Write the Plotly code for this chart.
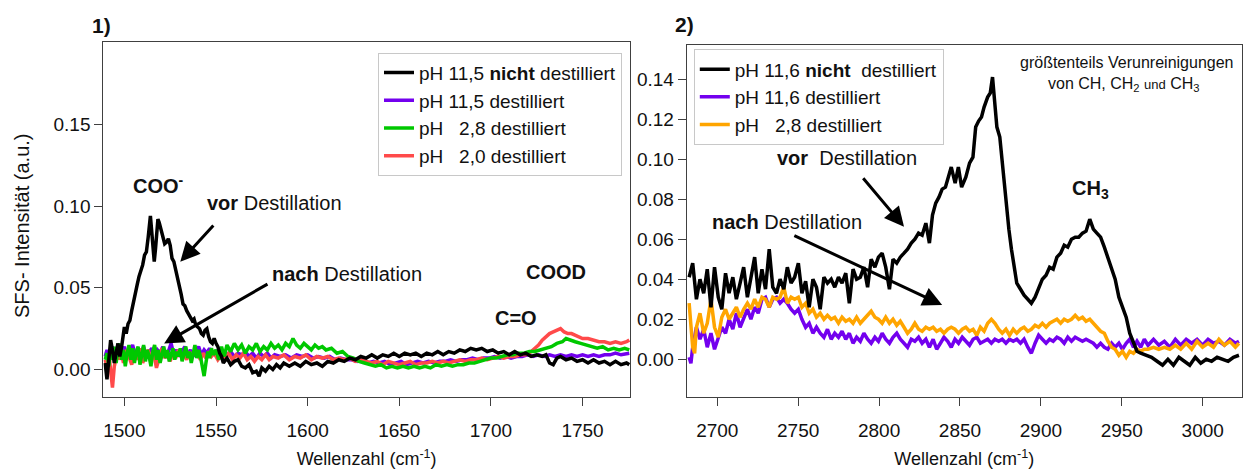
import plotly.graph_objects as go

FONT = "Liberation Sans, Arial, sans-serif"

# ---------------- Panel 1 data (COO- region) ----------------
p1_black_x = [1489.5, 1490.5, 1491.5, 1492.5, 1493.5, 1494.5, 1495.5, 1496.5, 1497.5, 1498.5,
              1500, 1501, 1502, 1503, 1504, 1505, 1506, 1507, 1508, 1509, 1510, 1511, 1512, 1513,
              1513.7, 1514.2, 1514.8, 1515.5, 1516.3, 1517, 1517.6, 1518.3, 1519, 1520, 1521, 1522,
              1523, 1524, 1525, 1526, 1527, 1528, 1529, 1530, 1531, 1532, 1533, 1534, 1535, 1536,
              1537, 1538, 1539, 1540, 1541, 1542, 1543, 1544, 1545, 1546, 1547, 1548, 1549, 1550,
              1551, 1552, 1553, 1554, 1556, 1558, 1560, 1562, 1564, 1566, 1568, 1570, 1572, 1573.5,
              1575, 1577, 1579, 1581, 1583, 1585, 1587, 1590, 1593, 1596, 1599, 1602, 1605, 1608,
              1611, 1614, 1617, 1620, 1623, 1626, 1629, 1632, 1635, 1638, 1641, 1644, 1647, 1650,
              1653, 1656, 1659, 1662, 1665, 1668, 1671, 1674, 1677, 1680, 1683, 1686, 1689, 1692,
              1695, 1698, 1701, 1704, 1707, 1710, 1713, 1716, 1719, 1722, 1725, 1728, 1730, 1732,
              1734, 1736, 1738, 1741, 1744, 1747, 1750, 1753, 1756, 1759, 1762, 1765, 1768, 1771,
              1774, 1775.5]
p1_black_y = [0.004, -0.006, 0.006, 0.018, 0.012, 0.004, 0.010, 0.016, 0.008, 0.014,
              0.026, 0.022, 0.028, 0.030, 0.036, 0.042, 0.047, 0.052, 0.057, 0.061, 0.064, 0.070, 0.072, 0.081,
              0.090, 0.094, 0.086, 0.075, 0.066, 0.074, 0.085, 0.092, 0.090, 0.085, 0.080, 0.077,
              0.078, 0.080, 0.076, 0.068, 0.066, 0.061, 0.058, 0.053, 0.046, 0.040, 0.039, 0.036, 0.034, 0.032,
              0.030, 0.031, 0.027, 0.026, 0.025, 0.022, 0.021, 0.024, 0.025, 0.020, 0.017, 0.016, 0.019, 0.016,
              0.014, 0.010, 0.008, 0.004, 0.007, 0.003, 0.005, 0.006, 0.002, 0.001, 0.003, -0.002, -0.001, -0.004,
              0.001, -0.001, 0.002, 0.000, 0.003, 0.001, 0.004, 0.002, 0.004, 0.002, 0.005, 0.003, 0.004, 0.002,
              0.005, 0.004, 0.006, 0.005, 0.007, 0.006, 0.008, 0.007, 0.009, 0.007, 0.009, 0.008, 0.010, 0.008,
              0.010, 0.009, 0.010, 0.008, 0.010, 0.009, 0.011, 0.009, 0.011, 0.010, 0.012, 0.011, 0.013, 0.012,
              0.013, 0.011, 0.012, 0.010, 0.011, 0.009, 0.011, 0.009, 0.010, 0.008, 0.009, 0.008, 0.009, 0.004,
              0.003, 0.007, 0.008, 0.006, 0.007, 0.005, 0.006, 0.004, 0.006, 0.004, 0.005, 0.003, 0.005, 0.003,
              0.004, 0.003]

p1_purple_x = [1489.5, 1490.5, 1491.5, 1492.5, 1493.5, 1494.5, 1495.5, 1496.5, 1497.5, 1498.5,
               1500, 1501.5, 1503, 1504.5, 1506, 1507.5, 1509, 1510.5, 1512, 1513.5, 1515, 1516.5,
               1518, 1519.5, 1521, 1522.5, 1524, 1525.5, 1527, 1528.5, 1530, 1531.5, 1533, 1534.5,
               1536, 1537.5, 1539, 1540.5, 1542, 1543.5, 1545, 1546.5, 1548, 1550, 1552, 1554, 1556,
               1558, 1560, 1562, 1564, 1566, 1568, 1570, 1572, 1574, 1576, 1578, 1580, 1582, 1585,
               1588, 1591, 1594, 1597, 1600, 1603, 1606, 1609, 1612, 1615, 1618, 1621, 1624, 1627,
               1630, 1633, 1636, 1639, 1642, 1645, 1648, 1651, 1654, 1657, 1660, 1663, 1666, 1669,
               1672, 1675, 1678, 1681, 1684, 1687, 1690, 1693, 1696, 1699, 1702, 1705, 1708, 1711,
               1714, 1717, 1720, 1723, 1726, 1729, 1732, 1735, 1738, 1741, 1744, 1747, 1750, 1753,
               1756, 1759, 1762, 1765, 1768, 1771, 1774, 1775.5]
p1_purple_y = [0.008, 0.012, 0.006, 0.010, 0.014, 0.008, 0.012, 0.007, 0.013, 0.009,
               0.014, 0.007, 0.011, 0.015, 0.008, 0.012, 0.009, 0.014, 0.007, 0.011, 0.013, 0.008,
               0.012, 0.010, 0.014, 0.008, 0.011, 0.016, 0.009, 0.012, 0.008, 0.011, 0.014, 0.009,
               0.012, 0.008, 0.011, 0.014, 0.009, 0.012, 0.010, 0.013, 0.009, 0.011, 0.008, 0.010, 0.009,
               0.011, 0.008, 0.010, 0.009, 0.011, 0.008, 0.010, 0.007, 0.010, 0.008, 0.010, 0.007, 0.009, 0.008,
               0.009, 0.007, 0.009, 0.008, 0.009, 0.007, 0.008, 0.007, 0.008, 0.006, 0.007, 0.006, 0.006, 0.005,
               0.006, 0.004, 0.005, 0.004, 0.005, 0.003, 0.004, 0.005, 0.003, 0.004, 0.005, 0.004, 0.005, 0.004,
               0.005, 0.005, 0.006, 0.005, 0.006, 0.006, 0.007, 0.006, 0.007, 0.007, 0.008, 0.007, 0.008, 0.007,
               0.008, 0.008, 0.009, 0.008, 0.009, 0.008, 0.009, 0.008, 0.009, 0.008, 0.009, 0.008, 0.009, 0.008,
               0.009, 0.008, 0.009, 0.009, 0.010, 0.009, 0.010, 0.010]

p1_green_x = [1489.5, 1490.5, 1491.5, 1492.5, 1493.5, 1494.5, 1495.5, 1496.5, 1497.5, 1498.5,
              1499.5, 1500.5, 1501.5, 1502.5, 1503.5, 1504.5, 1505.5, 1506.5, 1507.5, 1508.5,
              1509.5, 1510.5, 1511.5, 1512.5, 1513.5, 1514.5, 1515.5, 1516.5, 1517.5, 1518.5,
              1519.5, 1520.5, 1521.5, 1522.5, 1523.5, 1524.5, 1525.5, 1526.5, 1527.5, 1528.5,
              1529.5, 1530.5, 1531.5, 1532.5, 1533.5, 1534.5, 1535.5, 1536.5, 1537.5, 1538.5,
              1539.5, 1540.5, 1541.5, 1542.5, 1543.5, 1544.5, 1545.5, 1546.5, 1547.5, 1548.5,
              1550, 1551.5, 1553, 1554.5, 1556, 1558, 1560, 1562, 1564, 1566, 1568, 1570, 1572,
              1574, 1576, 1578, 1580, 1582, 1584, 1586, 1588, 1590, 1592, 1594, 1596, 1598, 1600,
              1602, 1604, 1606, 1608, 1610, 1613, 1616, 1619, 1622, 1625, 1628, 1631, 1634, 1637,
              1640, 1643, 1646, 1649, 1652, 1655, 1658, 1661, 1664, 1667, 1670, 1673, 1676, 1679,
              1682, 1685, 1688, 1691, 1694, 1697, 1700, 1703, 1706, 1709, 1712, 1715, 1718, 1721,
              1724, 1727, 1730, 1733, 1736, 1739, 1741, 1743, 1746, 1749, 1752, 1755, 1758, 1761,
              1764, 1767, 1770, 1773, 1775.5]
p1_green_y = [0.006, 0.010, 0.002, 0.012, 0.006, 0.014, 0.004, 0.012, 0.016, 0.006,
              0.012, 0.002, 0.010, 0.015, 0.006, 0.013, 0.004, 0.011, 0.014, 0.003,
              0.009, 0.015, 0.005, 0.012, 0.008, 0.002, 0.011, 0.015, 0.006, 0.012,
              0.004, 0.010, 0.014, 0.007, 0.012, 0.005, 0.010, 0.013, 0.006, 0.011,
              0.008, 0.013, 0.005, 0.009, 0.014, 0.007, 0.011, 0.004, 0.010, 0.015,
              0.007, 0.012, 0.008, 0.001, -0.004, 0.004, 0.011, 0.007, 0.013, 0.009,
              0.012, 0.006, 0.014, 0.008, 0.015, 0.011, 0.016, 0.012, 0.015, 0.010, 0.014, 0.012, 0.016,
              0.011, 0.014, 0.012, 0.016, 0.013, 0.015, 0.012, 0.016, 0.014, 0.019, 0.015, 0.013, 0.016, 0.014,
              0.012, 0.015, 0.013, 0.014, 0.012, 0.013, 0.010, 0.011, 0.008, 0.007, 0.005, 0.004, 0.003, 0.002,
              0.003, 0.001, 0.002, 0.001, 0.002, 0.001, 0.002, 0.001, 0.002, 0.001, 0.003, 0.002, 0.003, 0.002,
              0.003, 0.003, 0.004, 0.004, 0.005, 0.006, 0.007, 0.007, 0.008, 0.009, 0.009, 0.010, 0.010, 0.011,
              0.011, 0.012, 0.013, 0.014, 0.016, 0.017, 0.019, 0.018, 0.017, 0.016, 0.015, 0.014, 0.013, 0.014,
              0.012, 0.013, 0.012, 0.013, 0.012]

p1_red_x = [1489.5, 1490.5, 1491.5, 1492.5, 1493.5, 1494.5, 1495.5, 1496.5, 1497.5, 1498.5,
            1499.5, 1501, 1502.5, 1504, 1505.5, 1507, 1508.5, 1510, 1511.5, 1513, 1514.5, 1516,
            1517.5, 1519, 1520.5, 1522, 1523.5, 1525, 1526.5, 1528, 1529.5, 1531, 1532.5, 1534,
            1535.5, 1537, 1538.5, 1540, 1541.5, 1543, 1544.5, 1546, 1547.5, 1549, 1551, 1553,
            1555, 1557, 1559, 1561, 1563, 1565, 1567, 1569, 1571, 1573, 1575, 1577, 1579, 1581,
            1584, 1587, 1590, 1593, 1596, 1599, 1602, 1605, 1608, 1611, 1614, 1617, 1620, 1623,
            1626, 1629, 1632, 1635, 1638, 1641, 1644, 1647, 1650, 1653, 1656, 1659, 1662, 1665,
            1668, 1671, 1674, 1677, 1680, 1683, 1686, 1689, 1692, 1695, 1698, 1701, 1704, 1707,
            1710, 1713, 1716, 1719, 1722, 1724, 1726, 1728, 1730, 1732, 1734, 1736, 1738, 1740,
            1742, 1744, 1746, 1748, 1750, 1753, 1756, 1759, 1762, 1765, 1768, 1771, 1774, 1775.5]
p1_red_y = [0.006, 0.002, 0.010, 0.000, -0.011, 0.002, 0.008, 0.012, 0.006, 0.010,
            0.004, 0.012, 0.008, 0.003, 0.011, 0.006, 0.013, 0.004, 0.009, 0.012, 0.006, 0.010,
            0.001, 0.008, 0.013, 0.007, 0.010, 0.005, 0.011, 0.007, 0.012, 0.008, 0.010, 0.006,
            0.011, 0.008, 0.012, 0.009, 0.006, 0.010, 0.007, 0.011, 0.008, 0.010, 0.006, 0.009,
            0.007, 0.010, 0.006, 0.009, 0.007, 0.010, 0.006, 0.008, 0.005, 0.008, 0.006, 0.009, 0.006, 0.008,
            0.007, 0.009, 0.006, 0.008, 0.007, 0.009, 0.006, 0.008, 0.007, 0.008, 0.006, 0.007, 0.006, 0.007,
            0.005, 0.006, 0.005, 0.004, 0.005, 0.003, 0.005, 0.004, 0.003, 0.004, 0.005, 0.003, 0.004, 0.004,
            0.005, 0.004, 0.005, 0.004, 0.005, 0.006, 0.005, 0.006, 0.006, 0.007, 0.006, 0.007, 0.008, 0.007,
            0.008, 0.008, 0.009, 0.009, 0.011, 0.013, 0.015, 0.018, 0.020, 0.022, 0.023, 0.024, 0.025, 0.023,
            0.022, 0.022, 0.021, 0.020, 0.019, 0.019, 0.018, 0.017, 0.017, 0.016, 0.017, 0.016, 0.017, 0.018]

# ---------------- Panel 2 data (CH region) ----------------
p2_black_x = [2682.6, 2684.8, 2687.1, 2689.3, 2691.6, 2693.8, 2696.1, 2698.3, 2700.6, 2702.8,
              2705.1, 2707.3, 2709.6, 2711.8, 2714.1, 2716.3, 2718.6, 2720.8, 2723.1, 2725.3,
              2727.6, 2729.8, 2732.1, 2734.3, 2736.6, 2738.8, 2741.1, 2743.3, 2745.6, 2747.8,
              2750.1, 2752.3, 2754.6, 2756.8, 2759.1, 2761.3, 2763.6, 2765.9, 2768.1, 2770.4,
              2772.6, 2774.9, 2777.1, 2779.4, 2781.6, 2783.9, 2786.1, 2788.4, 2790.6, 2792.9,
              2795.1, 2797.4, 2799.6, 2801.9, 2804.1, 2806.4, 2808.6, 2810.9, 2813.1, 2815.4,
              2817.6, 2819.9, 2822.1, 2824.4, 2826.6, 2828.9, 2831.1, 2833, 2835, 2837, 2839, 2841,
              2843.5, 2844.6, 2847, 2849, 2851, 2853.6, 2855.9, 2858, 2859.7, 2861.5, 2863.3, 2864.9,
              2867.1, 2868.7, 2870.1, 2871.4, 2872.8, 2874.6, 2875.9, 2877.3, 2878.4, 2880.2, 2881.8,
              2883.6, 2885.1, 2887.4, 2889.6, 2891.9, 2894.1, 2896.4, 2898.6, 2900.9, 2903.2, 2905.4,
              2907.6, 2909.9, 2912.2, 2914.4, 2916.6, 2918.9, 2921.2, 2923.4, 2925.7, 2927.9, 2930.2,
              2932.4, 2934.6, 2936.9, 2939.2, 2941.4, 2943.7, 2945.9, 2948.2, 2950.4, 2952.7, 2954.9,
              2957.2, 2959.4, 2961.7, 2965, 2968.4, 2971.8, 2975.2, 2978.5, 2981.9, 2985.3, 2988.7,
              2992, 2995.4, 2998.8, 3002.2, 3005.5, 3008.9, 3012.3, 3015.7, 3019, 3022.4]
p2_black_y = [0.041, 0.048, 0.030, 0.040, 0.033, 0.045, 0.026, 0.046, 0.031, 0.025,
              0.043, 0.033, 0.041, 0.030, 0.038, 0.046, 0.031, 0.040, 0.051, 0.033,
              0.045, 0.035, 0.055, 0.036, 0.033, 0.040, 0.035, 0.046, 0.038, 0.041,
              0.048, 0.033, 0.039, 0.026, 0.040, 0.036, 0.025, 0.041, 0.038, 0.040,
              0.036, 0.041, 0.038, 0.043, 0.028, 0.045, 0.040, 0.041, 0.046, 0.036,
              0.050, 0.046, 0.051, 0.053, 0.046, 0.035, 0.050, 0.048, 0.051, 0.053,
              0.055, 0.058, 0.060, 0.063, 0.062, 0.068, 0.058, 0.072, 0.078, 0.081, 0.085, 0.086,
              0.093, 0.096, 0.088, 0.096, 0.086, 0.091, 0.098, 0.101, 0.116, 0.119, 0.121, 0.126,
              0.131, 0.133, 0.141, 0.128, 0.116, 0.111, 0.100, 0.085, 0.080, 0.065, 0.055,
              0.045, 0.038, 0.035, 0.032, 0.030, 0.028, 0.031, 0.035, 0.040, 0.042, 0.046,
              0.045, 0.051, 0.053, 0.057, 0.056, 0.060, 0.061, 0.061, 0.063, 0.064, 0.070,
              0.065, 0.063, 0.061, 0.056, 0.051, 0.046, 0.040, 0.031, 0.026, 0.021, 0.013,
              0.008, 0.004, 0.003, 0.002, 0.001, -0.001, -0.003, 0.000, -0.003, 0.001, -0.001,
              -0.003, 0.001, -0.002, 0.000, -0.001, 0.001, 0.000, -0.001, 0.001, 0.002]

p2_purple_x = [2682.6, 2683.7, 2684.8, 2687.1, 2689.3, 2691.6, 2693.8, 2696.1, 2698.3, 2700.6,
               2702.8, 2705.1, 2707.3, 2709.6, 2711.8, 2714.1, 2716.3, 2718.6, 2720.8, 2723.1,
               2725.3, 2727.6, 2729.8, 2732.1, 2734.3, 2736.6, 2738.8, 2741.1, 2743.3, 2745.6,
               2747.8, 2750.1, 2752.3, 2754.6, 2756.8, 2759.1, 2761.3, 2763.6, 2765.9, 2768.1,
               2770.4, 2772.6, 2774.9, 2777.1, 2779.4, 2781.6, 2783.9, 2786.1, 2788.4, 2790.6,
               2792.9, 2795.1, 2797.4, 2799.6, 2801.9, 2804.1, 2806.4, 2808.6, 2810.9, 2813.1,
               2815.4, 2817.6, 2819.9, 2822.1, 2824.4, 2826.6, 2828.9, 2831.1, 2833.4, 2835.6,
               2837.9, 2840.1, 2842.4, 2844.6, 2846.9, 2849.1, 2851.4, 2853.6, 2855.9, 2858.1,
               2860.4, 2862.6, 2864.9, 2867.1, 2869.4, 2871.6, 2873.9, 2876.1, 2878.4, 2880.6,
               2882.9, 2885.1, 2887.4, 2889.6, 2891.9, 2894.1, 2896.4, 2898.6, 2900.9, 2903.2,
               2905.4, 2907.6, 2909.9, 2912.2, 2914.4, 2916.6, 2918.9, 2921.2, 2923.4, 2925.7,
               2927.9, 2930.2, 2932.4, 2934.6, 2936.9, 2939.2, 2941.4, 2943.7, 2945.9, 2948.2,
               2950.4, 2952.7, 2954.9, 2957.2, 2959.4, 2961.7, 2963.9, 2966.2, 2969.6, 2972.9,
               2976.3, 2979.7, 2983.1, 2986.4, 2989.8, 2993.2, 2996.5, 2999.9, 3003.3, 3006.7,
               3010, 3013.4, 3016.8, 3020.2, 3022.4]
p2_purple_y = [0.001, -0.002, 0.006, 0.016, 0.010, 0.015, 0.006, 0.013, 0.005, 0.010,
               0.016, 0.013, 0.020, 0.015, 0.023, 0.016, 0.021, 0.025, 0.020, 0.026,
               0.023, 0.030, 0.031, 0.026, 0.030, 0.031, 0.028, 0.030, 0.028, 0.025,
               0.023, 0.025, 0.020, 0.016, 0.018, 0.013, 0.016, 0.013, 0.011, 0.015,
               0.010, 0.013, 0.011, 0.014, 0.010, 0.013, 0.008, 0.011, 0.009, 0.013,
               0.010, 0.008, 0.011, 0.009, 0.013, 0.010, 0.008, 0.011, 0.013, 0.010,
               0.008, 0.006, 0.010, 0.009, 0.011, 0.008, 0.010, 0.006, 0.010, 0.005,
               0.008, 0.011, 0.009, 0.006, 0.010, 0.008, 0.011, 0.009, 0.007, 0.010,
               0.011, 0.008, 0.009, 0.010, 0.008, 0.010, 0.009, 0.010, 0.008, 0.010,
               0.009, 0.010, 0.008, 0.010, 0.006, 0.003, 0.008, 0.012, 0.010, 0.008,
               0.010, 0.009, 0.011, 0.010, 0.008, 0.011, 0.009, 0.011, 0.010, 0.009,
               0.010, 0.009, 0.008, 0.006, 0.008, 0.006, 0.005, 0.008, 0.006, 0.008,
               0.005, 0.008, 0.010, 0.006, 0.009, 0.006, 0.010, 0.007, 0.010, 0.007,
               0.009, 0.006, 0.010, 0.007, 0.010, 0.008, 0.010, 0.007, 0.010, 0.008,
               0.009, 0.007, 0.010, 0.008, 0.009]

p2_orange_x = [2682.6, 2683.7, 2684.8, 2686.0, 2687.1, 2689.3, 2691.6, 2693.8, 2696.1, 2698.3,
               2700.6, 2702.8, 2705.1, 2707.3, 2709.6, 2711.8, 2714.1, 2716.3, 2718.6, 2720.8,
               2723.1, 2725.3, 2727.6, 2729.8, 2732.1, 2734.3, 2736.6, 2738.8, 2741.1, 2743.3,
               2745.6, 2747.8, 2750.1, 2752.3, 2754.6, 2756.8, 2759.1, 2761.3, 2763.6, 2765.9,
               2768.1, 2770.4, 2772.6, 2774.9, 2777.1, 2779.4, 2781.6, 2783.9, 2786.1, 2788.4,
               2790.6, 2792.9, 2795.1, 2797.4, 2799.6, 2801.9, 2804.1, 2806.4, 2808.6, 2810.9,
               2813.1, 2815.4, 2817.6, 2819.9, 2822.1, 2824.4, 2826.6, 2828.9, 2831.1, 2833.4,
               2835.6, 2837.9, 2840.1, 2842.4, 2844.6, 2846.9, 2849.1, 2851.4, 2853.6, 2855.9,
               2858.1, 2860.4, 2862.6, 2864.9, 2867.1, 2869.4, 2871.6, 2873.9, 2876.1, 2878.4,
               2880.6, 2882.9, 2885.1, 2887.4, 2889.6, 2891.9, 2894.1, 2896.4, 2898.6, 2900.9,
               2903.2, 2905.4, 2907.6, 2909.9, 2912.2, 2914.4, 2916.6, 2918.9, 2921.2, 2923.4,
               2925.7, 2927.9, 2930.2, 2932.4, 2934.6, 2936.9, 2939.2, 2941.4, 2943.7, 2945.9,
               2948.2, 2950.4, 2952.7, 2954.9, 2957.2, 2959.4, 2961.7, 2963.9, 2966.2, 2969.6,
               2972.9, 2976.3, 2979.7, 2983.1, 2986.4, 2989.8, 2993.2, 2996.5, 2999.9, 3003.3,
               3006.7, 3010, 3013.4, 3016.8, 3020.2, 3022.4]
p2_orange_y = [0.028, 0.016, 0.006, 0.003, 0.016, 0.023, 0.013, 0.018, 0.030, 0.016,
               0.011, 0.021, 0.025, 0.020, 0.023, 0.026, 0.021, 0.025, 0.028, 0.025,
               0.030, 0.026, 0.031, 0.030, 0.026, 0.031, 0.030, 0.031, 0.036, 0.028,
               0.031, 0.030, 0.031, 0.026, 0.028, 0.023, 0.025, 0.021, 0.023, 0.020,
               0.022, 0.020, 0.021, 0.018, 0.021, 0.019, 0.020, 0.018, 0.021, 0.018,
               0.020, 0.022, 0.024, 0.021, 0.020, 0.018, 0.021, 0.018, 0.020, 0.017,
               0.019, 0.016, 0.013, 0.015, 0.018, 0.015, 0.014, 0.016, 0.015, 0.016,
               0.014, 0.015, 0.013, 0.015, 0.016, 0.015, 0.013, 0.015, 0.016, 0.014,
               0.015, 0.012, 0.016, 0.014, 0.018, 0.020, 0.018, 0.015, 0.013, 0.015,
               0.012, 0.015, 0.013, 0.015, 0.016, 0.014, 0.015, 0.017, 0.016, 0.018,
               0.016, 0.018, 0.019, 0.020, 0.018, 0.020, 0.019, 0.020, 0.022, 0.020,
               0.021, 0.019, 0.020, 0.018, 0.016, 0.014, 0.013, 0.009, 0.006, 0.005,
               0.002, 0.004, 0.001, 0.004, 0.003, 0.005, 0.004, 0.005, 0.005, 0.006,
               0.005, 0.006, 0.005, 0.007, 0.005, 0.008, 0.005, 0.009, 0.006, 0.008,
               0.006, 0.010, 0.007, 0.009, 0.006, 0.008]

# ---------------- axis ticks ----------------
p1_xticks = [1500, 1550, 1600, 1650, 1700, 1750]
p1_yticks = [0.00, 0.05, 0.10, 0.15]
p2_xticks = [2700, 2750, 2800, 2850, 2900, 2950, 3000]
p2_yticks = [0.00, 0.02, 0.04, 0.06, 0.08, 0.10, 0.12, 0.14]

BLACK = "#000000"
PURPLE = "#7300EE"
GREEN = "#00C800"
RED = "#FF4A4A"
ORANGE = "#FFA500"
LW = 3.5

NB = "\u00a0"

fig = go.Figure()

# panel 1 (draw order: purple, red, green, black)
fig.add_trace(go.Scatter(x=p1_purple_x, y=p1_purple_y, mode="lines", line=dict(color=PURPLE, width=LW),
                         name="pH 11,5 destilliert", legendrank=2, legend="legend", xaxis="x", yaxis="y"))
fig.add_trace(go.Scatter(x=p1_red_x, y=p1_red_y, mode="lines", line=dict(color=RED, width=LW),
                         name="pH" + NB * 3 + "2,0 destilliert", legendrank=4, legend="legend", xaxis="x", yaxis="y"))
fig.add_trace(go.Scatter(x=p1_green_x, y=p1_green_y, mode="lines", line=dict(color=GREEN, width=LW),
                         name="pH" + NB * 3 + "2,8 destilliert", legendrank=3, legend="legend", xaxis="x", yaxis="y"))
fig.add_trace(go.Scatter(x=p1_black_x, y=p1_black_y, mode="lines", line=dict(color=BLACK, width=LW),
                         name="pH 11,5 <b>nicht</b> destilliert", legendrank=1, legend="legend", xaxis="x", yaxis="y"))

# panel 2 (draw order: purple, orange, black)
fig.add_trace(go.Scatter(x=p2_purple_x, y=p2_purple_y, mode="lines", line=dict(color=PURPLE, width=LW),
                         name="pH 11,6 destilliert", legendrank=2, legend="legend2", xaxis="x2", yaxis="y2"))
fig.add_trace(go.Scatter(x=p2_orange_x, y=p2_orange_y, mode="lines", line=dict(color=ORANGE, width=LW),
                         name="pH" + NB * 3 + "2,8 destilliert", legendrank=3, legend="legend2", xaxis="x2", yaxis="y2"))
fig.add_trace(go.Scatter(x=p2_black_x, y=p2_black_y, mode="lines", line=dict(color=BLACK, width=LW),
                         name="pH 11,6 <b>nicht</b>" + NB * 2 + "destilliert", legendrank=1, legend="legend2",
                         xaxis="x2", yaxis="y2"))

W, H = 1251, 473
AXC = "#404040"
TICKFONT = dict(family=FONT, size=19, color="#111")

common_x = dict(showline=True, mirror=True, linecolor=AXC, linewidth=1, ticks="outside", ticklen=8,
                tickcolor=AXC, tickwidth=1, showgrid=False, zeroline=False, tickfont=TICKFONT,
                ticklabelstandoff=9)
common_y = dict(showline=True, mirror=True, linecolor=AXC, linewidth=1, ticks="outside", ticklen=8,
                tickcolor=AXC, tickwidth=1, showgrid=False, zeroline=False, tickfont=TICKFONT,
                tickformat=".2f")

xtitle = dict(text="Wellenzahl (cm<sup>-1</sup>)", font=dict(family=FONT, size=18, color="#111"), standoff=12)

LEGFONT = dict(family=FONT, size=19, color="#111")

fig.update_layout(
    width=W, height=H,
    margin=dict(l=0, r=0, t=0, b=0),
    paper_bgcolor="white", plot_bgcolor="white",
    font=dict(family=FONT, color="#111"),
    xaxis=dict(domain=[103.3 / W, 630 / W], range=[1488.5, 1775.9], anchor="y",
               tickvals=p1_xticks, title=xtitle, **common_x),
    yaxis=dict(domain=[(H - 396.5) / H, (H - 42) / H], range=[-0.0165, 0.2004], anchor="x",
               tickvals=p1_yticks, **common_y),
    xaxis2=dict(domain=[686.7 / W, 1241.7 / W], range=[2681.1, 3024.1], anchor="y2",
                tickvals=p2_xticks, title=xtitle, **common_x),
    yaxis2=dict(domain=[(H - 396.5) / H, (H - 45) / H], range=[-0.0186, 0.157], anchor="x2",
                tickvals=p2_yticks, **common_y),
    legend=dict(x=622 / W, xanchor="right", y=(H - 52.7) / H, yanchor="top",
                bgcolor="white", bordercolor="#c8c8c8", borderwidth=1,
                font=LEGFONT, tracegroupgap=0),
    legend2=dict(x=693.8 / W, xanchor="left", y=(H - 49.3) / H, yanchor="top",
                 bgcolor="white", bordercolor="#c8c8c8", borderwidth=1,
                 font=LEGFONT, tracegroupgap=0),
    showlegend=True,
)

ann_font = dict(family=FONT, size=20, color="#111")
bold_font = dict(family=FONT, size=20, color="#111")


def label(text, xref, yref, x, y, font, **kw):
    d = dict(text=text, xref=xref, yref=yref, x=x, y=y, showarrow=False, font=font,
             xanchor="center", yanchor="middle")
    d.update(kw)
    return d


def arrow(xref, yref, x, y, ax, ay):
    return dict(text="", xref=xref, yref=yref, axref=xref, ayref=yref, x=x, y=y, ax=ax, ay=ay,
                showarrow=True, arrowhead=2, arrowsize=1.3, arrowwidth=3, arrowcolor="#000")


annotations = [
    # panel labels
    label("<b>1)</b>", "paper", "paper", 101 / W, (H - 25) / H, dict(family=FONT, size=21, color="#111")),
    label("<b>2)</b>", "paper", "paper", 684 / W, (H - 24) / H, dict(family=FONT, size=21, color="#111")),
    # y title
    label("SFS- Intensität (a.u.)", "paper", "paper", 22 / W, (H - 226) / H,
          dict(family=FONT, size=20, color="#111"), textangle=-90),
    # panel 1 texts
    label("<b>COO<sup>-</sup></b>", "x", "y", 1518.5, 0.1135, bold_font),
    label("<b>vor</b> Destillation", "x", "y", 1581.7, 0.1019, ann_font),
    label("<b>nach</b> Destillation", "x", "y", 1621.5, 0.0584, ann_font),
    label("<b>C=O</b>", "x", "y", 1713.7, 0.0315, bold_font),
    label("<b>COOD</b>", "x", "y", 1735.5, 0.0597, bold_font),
    # panel 1 arrows
    arrow("x", "y", 1530.5, 0.066, 1549.3, 0.089),
    arrow("x", "y", 1521.7, 0.016, 1578.9, 0.0528),
    # panel 2 texts
    label("größtenteils Verunreinigungen", "x2", "y2", 2952.6, 0.1485,
          dict(family=FONT, size=16, color="#111")),
    label("von CH, CH<sub>2</sub> <span style='font-size:13px'>und</span> CH<sub>3</sub>", "x2", "y2",
          2951.5, 0.1375, dict(family=FONT, size=16, color="#111")),
    label("<b>vor</b>" + NB * 2 + "Destillation", "x2", "y2", 2780, 0.1004, ann_font),
    label("<b>CH<sub>3</sub></b>", "x2", "y2", 2930.4, 0.0846, bold_font),
    label("<b>nach</b> Destillation", "x2", "y2", 2742.8, 0.0687, ann_font),
    # panel 2 arrows
    arrow("x2", "y2", 2815.4, 0.0662, 2789.4, 0.0912),
    arrow("x2", "y2", 2839, 0.0271, 2746.7, 0.0621),
]
fig.update_layout(annotations=annotations)

fig.write_html("out.html")
